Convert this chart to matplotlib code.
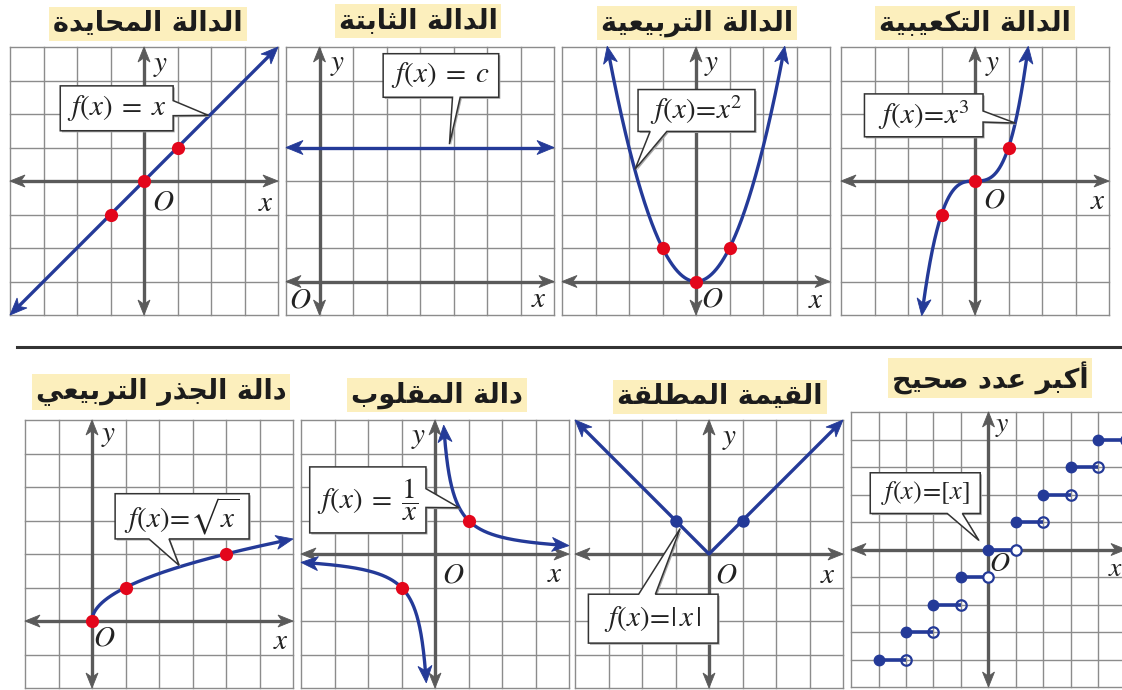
import numpy as np
import matplotlib
matplotlib.use("Agg")
import matplotlib.pyplot as plt
from matplotlib.patches import Polygon
from matplotlib.lines import Line2D

plt.rcParams["mathtext.fontset"] = "stix"
plt.rcParams["font.family"] = ["DejaVu Sans"]

W, H = 1122, 690
BLUE = "#243a98"
RED = "#e3061b"
AXIS = "#5a5a5a"
GRID = "#8c8c8c"
TITLE_BG = "#fcefbd"
INK = "#222222"

titles = ["الدالة المحايدة", "الدالة الثابتة", "الدالة التربيعية", "الدالة التكعيبية",
          "دالة الجذر التربيعي", "دالة المقلوب", "القيمة المطلقة", "أكبر عدد صحيح"]
formulas = [r"$f(x)\;=\;x$", r"$f(x)\;=\;c$", r"$f(x)\!=\!x^2$", r"$f(x)\!=\!x^3$",
            r"$f(x)\!=\!\sqrt{x}$", r"$f(x)\;=\;\dfrac{1}{x}$", r"$f(x)\!=\!|\,x\,|$",
            r"$f(x)\!=\![x]$"]

# key points and domains of each graph
identity_pts = [-1, 0, 1]
identity_dom = (-4, 4)
const_c = 4
const_dom = (-1, 7)
quad_pts = [-1, 0, 1]
quad_end = 2.65
cube_pts = [-1, 0, 1]
cube_end = 1.59
sqrt_pts = [0, 1, 4]
sqrt_dom = (0, 6)
recip_pts = [-1, 1]
recip_near, recip_far = 0.26, 4
abs_pts = [-1, 1]
abs_dom = (-4, 4)
floor_steps = [-4, -3, -2, -1, 0, 1, 2, 3, 4]

# ---- Arabic shaping (presentation forms, drawn right-to-left) ----
FORMS = {
    "ا": ("\uFE8D", "\uFE8E", None, None),
    "أ": ("\uFE83", "\uFE84", None, None),
    "ب": ("\uFE8F", "\uFE90", "\uFE91", "\uFE92"),
    "ة": ("\uFE93", "\uFE94", None, None),
    "ت": ("\uFE95", "\uFE96", "\uFE97", "\uFE98"),
    "ث": ("\uFE99", "\uFE9A", "\uFE9B", "\uFE9C"),
    "ج": ("\uFE9D", "\uFE9E", "\uFE9F", "\uFEA0"),
    "ح": ("\uFEA1", "\uFEA2", "\uFEA3", "\uFEA4"),
    "د": ("\uFEA9", "\uFEAA", None, None),
    "ذ": ("\uFEAB", "\uFEAC", None, None),
    "ر": ("\uFEAD", "\uFEAE", None, None),
    "ص": ("\uFEB9", "\uFEBA", "\uFEBB", "\uFEBC"),
    "ط": ("\uFEC1", "\uFEC2", "\uFEC3", "\uFEC4"),
    "ع": ("\uFEC9", "\uFECA", "\uFECB", "\uFECC"),
    "ق": ("\uFED5", "\uFED6", "\uFED7", "\uFED8"),
    "ك": ("\uFED9", "\uFEDA", "\uFEDB", "\uFEDC"),
    "ل": ("\uFEDD", "\uFEDE", "\uFEDF", "\uFEE0"),
    "م": ("\uFEE1", "\uFEE2", "\uFEE3", "\uFEE4"),
    "و": ("\uFEED", "\uFEEE", None, None),
    "ي": ("\uFEF1", "\uFEF2", "\uFEF3", "\uFEF4"),
}


def shape_arabic(text):
    out = []
    for i, ch in enumerate(text):
        if ch not in FORMS:
            out.append(ch)
            continue
        prev = text[i - 1] if i > 0 else ""
        nxt = text[i + 1] if i + 1 < len(text) else ""
        iso, fin, ini, med = FORMS[ch]
        jp = prev in FORMS and FORMS[prev][2] is not None
        jn = ini is not None and nxt in FORMS
        out.append(med if jp and jn else fin if jp else ini if jn else iso)
    return "".join(reversed(out))


fig = plt.figure(figsize=(W / 100, H / 100), dpi=100)


def panel(left, top, ncols, nrows, cell, xmin, ymin):
    ax = fig.add_axes([left / W, 1 - (top + nrows * cell) / H,
                       ncols * cell / W, nrows * cell / H])
    ax.set_xlim(xmin, xmin + ncols)
    ax.set_ylim(ymin, ymin + nrows)
    ax.axis("off")
    for i in range(ncols + 1):
        ax.plot([xmin + i] * 2, [ymin, ymin + nrows], color=GRID, lw=1.0,
                clip_on=False, zorder=1)
    for j in range(nrows + 1):
        ax.plot([xmin, xmin + ncols], [ymin + j] * 2, color=GRID, lw=1.0,
                clip_on=False, zorder=1)
    ax.cell = cell
    return ax


def densify(pts, n=700):
    seg = np.hypot(*np.diff(pts, axis=0).T)
    s = np.concatenate([[0], np.cumsum(seg)])
    t = np.linspace(0, s[-1], n)
    return np.column_stack([np.interp(t, s, pts[:, 0]), np.interp(t, s, pts[:, 1])])


def arrow_tip(ax, pts, hl, hw, color, z):
    L = hl / ax.cell
    half = hw / 2 / ax.cell
    tip = pts[-1]
    dist = np.hypot(*(pts - tip).T)
    idx = np.where(dist >= L)[0][-1]
    d = tip - pts[idx]
    d /= np.hypot(*d)
    n = np.array([-d[1], d[0]])
    base = tip - L * d
    head = [tip, base + half * n, tip - 0.72 * L * d, base - half * n]
    ax.add_patch(Polygon(head, closed=True, fc=color, ec=color, lw=0.6,
                         clip_on=False, zorder=z))
    keep = np.where(dist >= 0.5 * L)[0][-1]
    return pts[:keep + 1]


def arrow_line(ax, xs, ys, color, lw, heads=(True, True), hl=17, hw=14, z=4):
    pts = densify(np.column_stack([xs, ys]).astype(float))
    if heads[1]:
        pts = arrow_tip(ax, pts, hl, hw, color, z)
    if heads[0]:
        pts = arrow_tip(ax, pts[::-1], hl, hw, color, z)[::-1]
    ax.plot(pts[:, 0], pts[:, 1], color=color, lw=lw, clip_on=False, zorder=z,
            solid_capstyle="butt", solid_joinstyle="miter")


def axes_cross(ax):
    x0, x1 = ax.get_xlim()
    y0, y1 = ax.get_ylim()
    arrow_line(ax, [x0, x1], [0, 0], AXIS, 2.4, hl=15, hw=12, z=3)
    arrow_line(ax, [0, 0], [y0, y1], AXIS, 2.4, hl=15, hw=12, z=3)


def labels(ax, ypos, opos, xpos, fs=21):
    for txt, (px, py) in (("y", ypos), ("O", opos), ("x", xpos)):
        ax.text(px, py, "$%s$" % txt, fontsize=fs, color=INK, ha="center",
                va="center", zorder=7)


def callout(ax, box, side, base, tip, text, fs=21):
    x0, x1, y0, y1 = box
    b0, b1 = base
    if side == "right":
        verts = [(x0, y0), (x1, y0), (x1, b0), tip, (x1, b1), (x1, y1), (x0, y1)]
    elif side == "bottom":
        verts = [(x0, y0), (b0, y0), tip, (b1, y0), (x1, y0), (x1, y1), (x0, y1)]
    else:
        verts = [(x0, y0), (x1, y0), (x1, y1), (b1, y1), tip, (b0, y1), (x0, y1)]
    off = 1.6 / ax.cell
    shadow = [(vx + off, vy - off) for vx, vy in verts]
    ax.add_patch(Polygon(shadow, closed=True, fc="#a8a8a8", ec="none",
                         clip_on=False, zorder=6))
    ax.add_patch(Polygon(verts, closed=True, fc="white", ec="#333333", lw=1.1,
                         clip_on=False, zorder=6.1, joinstyle="miter"))
    ax.text((x0 + x1) / 2, (y0 + y1) / 2, text, fontsize=fs, color=INK,
            ha="center", va="center", zorder=7)


def dots(ax, xs, ys, color=RED, ms=9.5):
    ax.plot(xs, ys, "o", color=color, ms=ms, mew=0, zorder=5, clip_on=False)


# ---- top row ----
ax = panel(10, 47, 8, 8, 33.5, -4, -4)
axes_cross(ax)
xs = np.array(identity_dom, float)
arrow_line(ax, xs, xs, BLUE, 2.4)
dots(ax, identity_pts, identity_pts)
callout(ax, (-2.5, 0.87, 1.5, 2.84), "right", (1.95, 2.4), (1.92, 1.96), formulas[0])
labels(ax, (0.5, 3.47), (0.57, -0.6), (3.63, -0.67))

ax = panel(286, 47, 8, 8, 33.5, -1, -1)
axes_cross(ax)
arrow_line(ax, const_dom, [const_c, const_c], BLUE, 2.4)
callout(ax, (1.9, 5.35, 5.5, 6.8), "bottom", (3.97, 4.2), (3.88, 4.1), formulas[1])
labels(ax, (0.55, 6.5), (-0.57, -0.54), (6.55, -0.52))

ax = panel(562, 47, 8, 8, 33.5, -4, -1)
axes_cross(ax)
xs = np.linspace(-quad_end, quad_end, 400)
arrow_line(ax, xs, xs ** 2, BLUE, 2.4)
dots(ax, quad_pts, [v ** 2 for v in quad_pts])
callout(ax, (-1.73, 1.76, 4.48, 5.73), "bottom", (-1.37, -0.87), (-1.82, 3.35), formulas[2])
labels(ax, (0.47, 6.5), (0.49, -0.51), (3.58, -0.56))

ax = panel(841, 47, 8, 8, 33.5, -4, -4)
axes_cross(ax)
xs = np.linspace(-cube_end, cube_end, 400)
arrow_line(ax, xs, xs ** 3, BLUE, 2.4)
dots(ax, cube_pts, [v ** 3 for v in cube_pts])
callout(ax, (-3.3, 0.24, 1.32, 2.6), "right", (1.76, 2.09), (1.2, 1.73), formulas[3])
labels(ax, (0.52, 3.5), (0.58, -0.55), (3.67, -0.59))

# separator rule between the two rows
fig.add_artist(Line2D([17 / W, 1.0], [1 - 346.5 / H] * 2, color="#333333", lw=2.2))

# ---- bottom row ----
ax = panel(25, 420, 8, 8, 33.5, -2, -2)
axes_cross(ax)
xs = np.linspace(sqrt_dom[0], sqrt_dom[1], 600) ** 2 / sqrt_dom[1]
arrow_line(ax, xs, np.sqrt(xs), BLUE, 2.4, heads=(False, True))
dots(ax, sqrt_pts, np.sqrt(sqrt_pts))
callout(ax, (0.69, 4.69, 2.45, 3.8), "bottom", (1.7, 2.3), (2.6, 1.66), formulas[4])
labels(ax, (0.5, 5.55), (0.36, -0.49), (5.63, -0.59))

ax = panel(301, 420, 8, 8, 33.5, -4, -4)
axes_cross(ax)
xs = np.geomspace(recip_near, recip_far, 400)
arrow_line(ax, xs, 1 / xs, BLUE, 2.4)
arrow_line(ax, -xs, -1 / xs, BLUE, 2.4)
dots(ax, recip_pts, [1 / v for v in recip_pts])
callout(ax, (-3.74, -0.27, 0.63, 2.6), "right", (1.39, 1.95), (0.72, 1.38), formulas[5])
labels(ax, (-0.5, 3.49), (0.55, -0.6), (3.59, -0.6))

ax = panel(575, 420, 8, 8, 33.5, -4, -4)
axes_cross(ax)
xs = np.array([abs_dom[0], 0, abs_dom[1]], float)
arrow_line(ax, xs, np.abs(xs), BLUE, 2.4)
dots(ax, abs_pts, np.abs(abs_pts), color=BLUE, ms=9)
callout(ax, (-3.6, 0.27, -2.66, -1.2), "top", (-2.1, -1.6), (-0.86, 0.76), formulas[6])
labels(ax, (0.6, 3.47), (0.52, -0.62), (3.56, -0.62))

ax = panel(851, 412, 10, 10, 27.5, -5, -5)
axes_cross(ax)
for k in floor_steps:
    ax.plot([k, k + 1], [k, k], color=BLUE, lw=2.6, solid_capstyle="butt", zorder=4)
    ax.plot(k, k, "o", color=BLUE, ms=7.5, zorder=5)
    on_axis = (k + 1 == 0) or (k == 0) or (k == -1)
    ax.plot(k + 1, k, "o", mfc="white" if on_axis else "none", mec=BLUE,
            mew=1.6, ms=7.5, zorder=5)
callout(ax, (-4.3, -0.3, 1.31, 2.79), "bottom", (-1.5, -0.95), (-0.35, 0.33),
        formulas[7], fs=19)
labels(ax, (0.51, 4.52), (0.41, -0.49), (4.62, -0.69), fs=20)

# ---- titles ----
title_pos = [(148, 24), (418, 21), (697, 23), (975, 23),
             (161, 392), (437, 395), (720, 397), (990, 378)]
for t, (cx, cy) in zip(titles, title_pos):
    fig.text(cx / W, 1 - cy / H, shape_arabic(t), ha="center", va="center",
             fontsize=19.5, fontweight="bold", color="#1c1c1c",
             bbox=dict(boxstyle="square,pad=0.14", fc=TITLE_BG, ec="none"))

fig.savefig("out.png", dpi=100)
